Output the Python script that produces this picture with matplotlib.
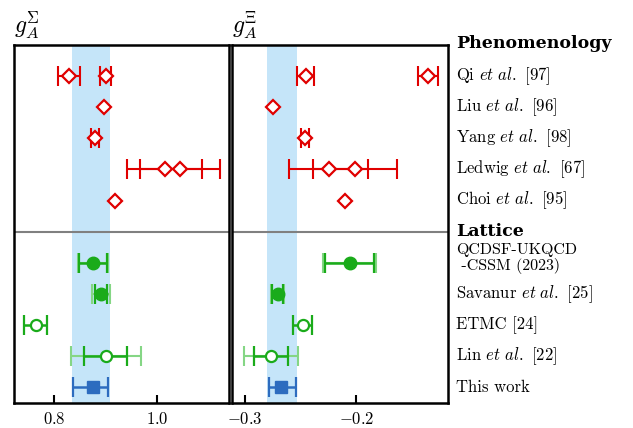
import numpy as np
import matplotlib
matplotlib.use('Agg')
import matplotlib.pyplot as plt
import matplotlib.transforms as mtransforms

plt.rcParams['font.family'] = 'serif'
plt.rcParams['font.serif'] = ['cmr10']
plt.rcParams['mathtext.fontset'] = 'cm'
plt.rcParams['axes.formatter.use_mathtext'] = True

# -------------------------------
# data (row index: 0-4 phenomenology, 6-10 lattice)
# -------------------------------
nan = np.nan
pheno_rows = [0, 0, 1, 2, 3, 3, 4]
sigma_pheno = [0.829, 0.900, 0.8965, 0.879, 1.015, 1.046, 0.919]
sigma_pheno_err = [0.021, 0.010, nan, 0.008, 0.073, 0.078, nan]
xi_pheno = [-0.2454, -0.1358, -0.2749, -0.2457, -0.2248, -0.2012, -0.2098]
xi_pheno_err = [0.0077, 0.0087, nan, 0.0036, 0.035, 0.0377, nan]

lat_rows = [6, 7, 8, 9]
lat_filled = [True, True, False, False]
sigma_lat = [0.876, 0.891, 0.7637, 0.9004]
sigma_lat_stat = [0.027, 0.0123, 0.0228, 0.0417]
sigma_lat_tot = [0.0293, 0.0173, nan, 0.068]
xi_lat = [-0.206, -0.2705, -0.248, -0.2764]
xi_lat_stat = [0.0218, 0.0049, 0.0085, 0.0149]
xi_lat_tot = [0.0237, 0.0055, nan, 0.0242]

this_row = 10
sigma_this = 0.875
sigma_this_err = [0.038, 0.030]   # lower, upper
sigma_band = [0.8352, 0.9088]
xi_this = -0.2671
xi_this_err = [0.0114, 0.0128]
xi_band = [-0.2797, -0.2531]

labels = ['Qi $\\mathit{et\\ al.}$ [97]', 'Liu $\\mathit{et\\ al.}$ [96]',
          'Yang $\\mathit{et\\ al.}$ [98]', 'Ledwig $\\mathit{et\\ al.}$ [67]',
          'Choi $\\mathit{et\\ al.}$ [95]', None,
          None, 'Savanur $\\mathit{et\\ al.}$ [25]', 'ETMC [24]',
          'Lin $\\mathit{et\\ al.}$ [22]', 'This work']

red = '#e00000'
green = '#1aab1a'
lgreen = '#85d685'
blue = '#2d6cbf'
band = '#c5e5f9'

fig = plt.figure(figsize=(6.33, 4.28), dpi=100)
ax1 = fig.add_axes([0.0226, 0.0591, 0.3394, 0.8358])
ax2 = fig.add_axes([0.367, 0.0591, 0.3403, 0.8358])


def draw(ax, pheno, pheno_err, lat, lat_stat, lat_tot, this, this_err, bnd):
    ax.axvspan(bnd[0], bnd[1], color=band, lw=0, zorder=0)
    ax.axhline(5, color='gray', lw=1.5, zorder=1)
    for y, x, e in zip(pheno_rows, pheno, pheno_err):
        if np.isfinite(e):
            ax.errorbar(x, y, xerr=e, fmt='none', ecolor=red, elinewidth=1.5,
                        capsize=7, capthick=1.5, zorder=2)
        ax.plot(x, y, 'D', ms=7, mfc='white', mec=red, mew=1.6, zorder=3)
    for y, x, s, t, f in zip(lat_rows, lat, lat_stat, lat_tot, lat_filled):
        if np.isfinite(t):
            ax.errorbar(x, y, xerr=t, fmt='none', ecolor=lgreen, elinewidth=1.5,
                        capsize=7, capthick=1.5, zorder=2)
        ax.errorbar(x, y, xerr=s, fmt='none', ecolor=green, elinewidth=1.8,
                    capsize=7, capthick=1.6, zorder=2)
        if f:
            ax.plot(x, y, 'o', ms=9, mfc=green, mec=green, zorder=3)
        else:
            ax.plot(x, y, 'o', ms=8, mfc='white', mec=green, mew=1.6, zorder=3)
    ax.errorbar(this, this_row, xerr=[[this_err[0]], [this_err[1]]], fmt='s',
                ms=8, color=blue, elinewidth=1.8, capsize=7, capthick=1.6, zorder=3)
    ax.set_ylim(10.5, -1)
    ax.set_yticks([])
    ax.tick_params(axis='x', direction='in', length=6, width=1.5, labelsize=12, pad=6)
    for sp in ax.spines.values():
        sp.set_linewidth(1.8)


draw(ax1, sigma_pheno, sigma_pheno_err, sigma_lat, sigma_lat_stat, sigma_lat_tot,
     sigma_this, sigma_this_err, sigma_band)
draw(ax2, xi_pheno, xi_pheno_err, xi_lat, xi_lat_stat, xi_lat_tot,
     xi_this, xi_this_err, xi_band)

ax1.set_xlim(0.722, 1.141)
ax1.set_xticks([0.8, 1.0])
ax2.set_xlim(-0.311, -0.118)
ax2.set_xticks([-0.3, -0.2])

ax1.text(0.0, 1.01, r'$g_A^{\Sigma}$', transform=ax1.transAxes, fontsize=17, va='bottom')
ax2.text(0.0, 1.01, r'$g_A^{\Xi}$', transform=ax2.transAxes, fontsize=17, va='bottom')

trans = mtransforms.blended_transform_factory(ax2.transAxes, ax2.transData)
lx = 1.04
for y, lab in enumerate(labels):
    if lab:
        ax2.text(lx, y, lab, transform=trans, fontsize=12, va='center', clip_on=False)
ax2.text(lx, -1.05, 'Phenomenology', transform=trans, fontsize=12.5, va='center',
         fontfamily='DejaVu Serif', fontweight='bold')
ax2.text(lx, 5.0, 'Lattice', transform=trans, fontsize=12.5, va='center',
         fontfamily='DejaVu Serif', fontweight='bold')
ax2.text(lx, 5.6, 'QCDSF-UKQCD', transform=trans, fontsize=11.5, va='center')
ax2.text(lx, 6.1, ' -CSSM (2023)', transform=trans, fontsize=11.5, va='center')

fig.savefig('out.png', dpi=100)
